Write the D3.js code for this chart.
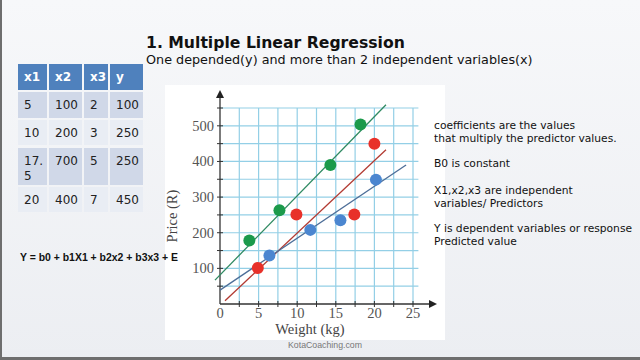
<!DOCTYPE html>
<html>
<head>
<meta charset="utf-8">
<script src="https://cdn.jsdelivr.net/npm/d3@7"></script>
<style>
  html, body { margin: 0; padding: 0; }
  body { width: 640px; height: 360px; overflow: hidden; }
</style>
</head>
<body>
<div id="chart"></div>
<script>
// table shown on the slide
const tableHeader = ["x1", "x2", "x3", "y"];
const tableRows = [
    ["5", "100", "2", "100"],
    ["10", "200", "3", "250"],
    ["17.\n5", "700", "5", "250"],
    ["20", "400", "7", "450"]
];

// scatter points
const greenPoints = [[3.8, 178], [7.7, 263], [14.3, 390], [18.2, 504]];
const redPoints = [[4.9, 101], [9.9, 251], [17.4, 251], [20, 450]];
const bluePoints = [[6.4, 136], [11.7, 208], [15.6, 235], [20.2, 349]];

// fitted lines, as endpoints [x, y]
const greenLine = [[-0.65, 67], [21.5, 559]];
const redLine = [[0.65, 9], [21.5, 433]];
const blueLine = [[0, 39], [24.1, 390]];

const xTicks = [0, 5, 10, 15, 20, 25];
const yTicks = [100, 200, 300, 400, 500];
const gridX = d3.range(2.5, 25.01, 2.5);
const gridY = d3.range(50, 550.01, 50);

const notes = [
    ["coefficients are the values", "that multiply the predictor values."],
    ["B0 is constant"],
    ["X1,x2,x3 are independent", "variables/ Predictors"],
    ["Y is dependent variables or response", "Predicted value"]
];
const noteTop = [129, 167, 194, 232];

const W = 640, H = 360;
const svg = d3.select("#chart").append("svg")
    .attr("width", W).attr("height", H);

// shrink a text until it fits the width seen on the slide
function fit(sel, width) {
    const n = sel.node();
    const len = n.getComputedTextLength();
    const fs = parseFloat(sel.style("font-size"));
    if (len > 0) sel.style("font-size", (fs * width / len).toFixed(2) + "px");
    return sel;
}

// slide background
const defs = svg.append("defs");
const bg = defs.append("linearGradient").attr("id", "bg")
    .attr("x1", 0).attr("y1", 0).attr("x2", 0).attr("y2", 1);
bg.append("stop").attr("offset", "0%").attr("stop-color", "#f7f8fa");
bg.append("stop").attr("offset", "100%").attr("stop-color", "#eceef2");
svg.append("rect").attr("width", W).attr("height", H).attr("fill", "url(#bg)");
svg.append("rect").attr("x", 0).attr("y", 0).attr("width", 2).attr("height", H).attr("fill", "#6e6e6e");
svg.append("rect").attr("x", 0).attr("y", H - 3).attr("width", W).attr("height", 3).attr("fill", "#6e6e6e");

// chart panel (under the texts)
svg.append("rect").attr("x", 165).attr("y", 85).attr("width", 280).attr("height", 255).attr("fill", "#fff");

const sans = "'DejaVu Sans', Verdana, sans-serif";

// title
fit(svg.append("text").attr("x", 146).attr("y", 48)
    .style("font-family", sans)
    .style("font-weight", "bold").style("font-size", "16px").attr("fill", "#111")
    .text("1. Multiple Linear Regression"), 259);
fit(svg.append("text").attr("x", 146).attr("y", 64)
    .style("font-family", sans)
    .style("font-size", "13px").attr("fill", "#111")
    .text("One depended(y) and more than 2 independent variables(x)"), 387);

// table
const colX = [18, 49, 84, 110], colW = [29, 33, 24, 33];
const rowY = [64, 92, 120, 148, 187], rowH = [26, 26, 25, 37, 25];
const tbl = svg.append("g").style("font-family", sans).style("font-size", "12px");
tableHeader.forEach((h, j) => {
    tbl.append("rect").attr("x", colX[j]).attr("y", rowY[0]).attr("width", colW[j]).attr("height", rowH[0]).attr("fill", "#4f81bd");
    tbl.append("text").attr("x", colX[j] + 6).attr("y", rowY[0] + 17).attr("fill", "#fff")
        .style("font-weight", "bold").text(h);
});
tableRows.forEach((row, i) => {
    row.forEach((v, j) => {
        tbl.append("rect").attr("x", colX[j]).attr("y", rowY[i + 1]).attr("width", colW[j]).attr("height", rowH[i + 1])
            .attr("fill", i % 2 === 0 ? "#d0d8e8" : "#e9edf4");
        v.split("\n").forEach((line, k) => {
            tbl.append("text").attr("x", colX[j] + 6).attr("y", rowY[i + 1] + 17 + k * 15).attr("fill", "#222").text(line);
        });
    });
});

// equation
fit(svg.append("text").attr("x", 20).attr("y", 261)
    .style("font-family", "'Liberation Sans', Arial, sans-serif")
    .style("font-weight", "bold").style("font-size", "11.5px").attr("fill", "#111")
    .text("Y = b0 + b1X1 + b2x2 + b3x3 + E"), 158);

// notes on the right
const nt = svg.append("g").style("font-family", sans).attr("fill", "#111");
notes.forEach((block, b) => {
    block.forEach((line, k) => {
        nt.append("text").attr("x", 434).attr("y", noteTop[b] + k * 13)
            .style("font-size", "10.7px").text(line);
    });
});

const x = d3.scaleLinear().domain([0, 25]).range([220, 413]);
const y = d3.scaleLinear().domain([0, 550]).range([304, 108]);

const plot = svg.append("g");
// grid
plot.selectAll(".gx").data(gridX).join("line")
    .attr("x1", d => x(d)).attr("x2", d => x(d))
    .attr("y1", y(0)).attr("y2", y(550))
    .attr("stroke", "#93cfe6").attr("stroke-width", 1.2);
plot.selectAll(".gy").data(gridY).join("line")
    .attr("x1", x(0)).attr("x2", x(25.7))
    .attr("y1", d => y(d)).attr("y2", d => y(d))
    .attr("stroke", "#93cfe6").attr("stroke-width", 1.2);

// axes with arrows
const axisColor = "#333";
plot.append("line").attr("x1", x(0)).attr("x2", x(0)).attr("y1", y(0)).attr("y2", 96)
    .attr("stroke", axisColor).attr("stroke-width", 1.3);
plot.append("path").attr("d", `M${x(0)},90 l-4,8 l8,0 z`).attr("fill", "#222");
plot.append("line").attr("x1", x(0)).attr("x2", 431).attr("y1", y(0)).attr("y2", y(0))
    .attr("stroke", axisColor).attr("stroke-width", 1.3);
plot.append("path").attr("d", `M437,${y(0)} l-8,-4 l0,8 z`).attr("fill", "#222");

// axis ticks
plot.selectAll(".ty").data(gridY).join("line")
    .attr("x1", x(0) - 3).attr("x2", x(0) + 3)
    .attr("y1", d => y(d)).attr("y2", d => y(d))
    .attr("stroke", axisColor);
plot.selectAll(".tx").data(gridX).join("line")
    .attr("x1", d => x(d)).attr("x2", d => x(d))
    .attr("y1", y(0) - 3).attr("y2", y(0) + 3)
    .attr("stroke", axisColor);

const serif = "'Liberation Serif', 'DejaVu Serif', serif";
plot.selectAll(".lx").data(xTicks).join("text")
    .attr("x", d => x(d)).attr("y", 318)
    .attr("text-anchor", "middle")
    .style("font-family", serif).style("font-size", "14.5px").attr("fill", "#555")
    .text(d => d);
plot.selectAll(".ly").data(yTicks).join("text")
    .attr("x", 214).attr("y", d => y(d) + 5)
    .attr("text-anchor", "end")
    .style("font-family", serif).style("font-size", "14.5px").attr("fill", "#555")
    .text(d => d);

svg.append("text").attr("transform", "translate(177,216) rotate(-90)")
    .attr("text-anchor", "middle")
    .style("font-family", serif).style("font-size", "14.5px").attr("fill", "#444")
    .text("Price (R)");
svg.append("text").attr("x", 310).attr("y", 334)
    .attr("text-anchor", "middle")
    .style("font-family", serif).style("font-size", "14.5px").attr("fill", "#444")
    .text("Weight (kg)");
fit(svg.append("text").attr("x", 325).attr("y", 348)
    .attr("text-anchor", "middle")
    .style("font-family", "'Liberation Sans', Arial, sans-serif").style("font-size", "10.5px").attr("fill", "#777")
    .text("KotaCoaching.com"), 74);

// regression lines
const line = d3.line().x(d => x(d[0])).y(d => y(d[1]));
[[greenLine, "#2f8a62"], [redLine, "#b23a32"], [blueLine, "#4d6e98"]].forEach(([pts, c]) => {
    plot.append("path").attr("d", line(pts)).attr("fill", "none").attr("stroke", c).attr("stroke-width", 1.3);
});

// points
[[greenPoints, "#1b9a4b"], [redPoints, "#e8312a"], [bluePoints, "#4b86d0"]].forEach(([pts, c]) => {
    plot.selectAll(null).data(pts).join("circle")
        .attr("cx", d => x(d[0])).attr("cy", d => y(d[1]))
        .attr("r", 6).attr("fill", c);
});
</script>
</body>
</html>
